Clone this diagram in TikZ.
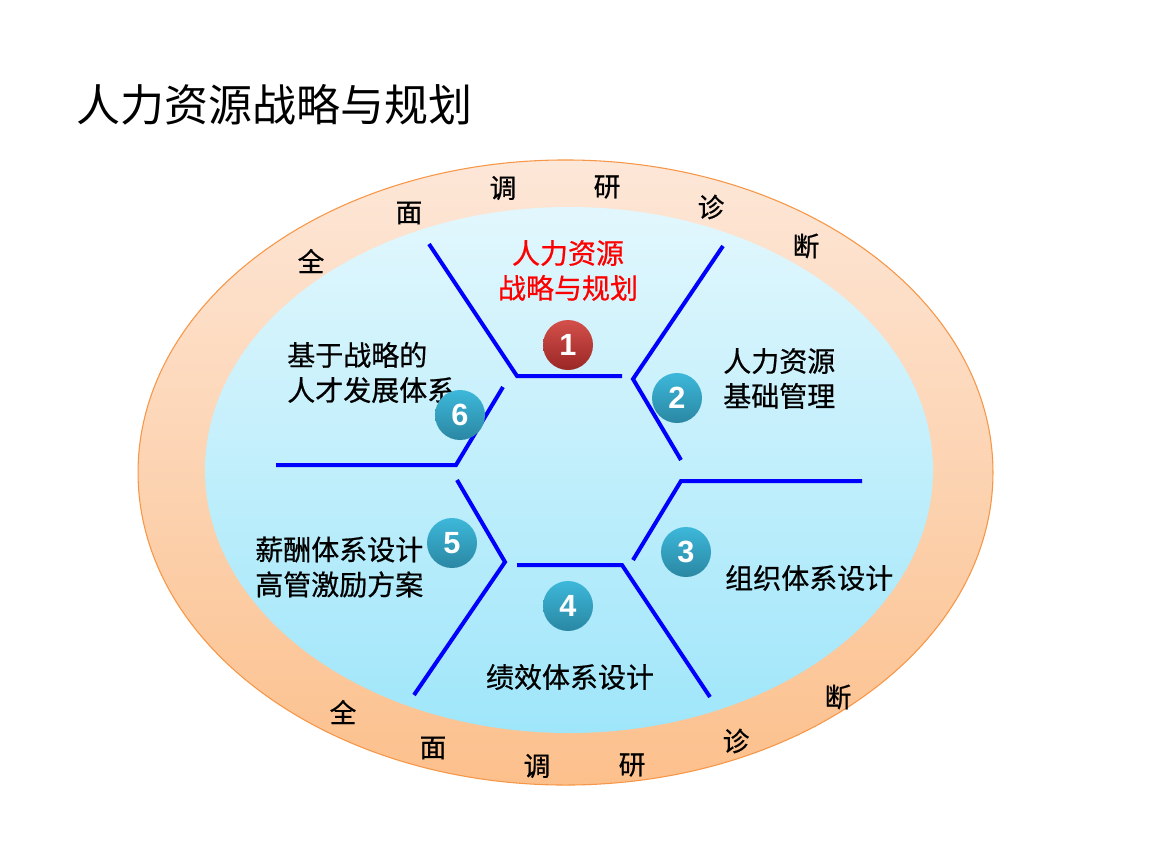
\documentclass[tikz,border=0pt]{standalone}
\usepackage{fontspec}
\setmainfont{Liberation Sans}
\newfontfamily\cjk{Noto Sans CJK SC}
\newfontfamily\cjkm{Noto Sans CJK SC}[FakeBold=0.6]
\definecolor{ringtop}{HTML}{FDE7D8}
\definecolor{ringbot}{HTML}{FCC08C}
\definecolor{ringedge}{HTML}{F79646}
\definecolor{coretop}{HTML}{E2F7FD}
\definecolor{corebot}{HTML}{9FE6FA}
\definecolor{balltop}{HTML}{3DB8DA}
\definecolor{ballbot}{HTML}{2A87A3}
\definecolor{redtop}{HTML}{D4504B}
\definecolor{redbot}{HTML}{9A2725}
\begin{document}
\begin{tikzpicture}[x=0.75pt,y=-0.75pt]
          \tikzstyle{ball}=[circle,inner sep=0pt,minimum size=37.5pt,top color=balltop,bottom color=ballbot,text=white,font=\fontsize{23}{23}\selectfont\bfseries];
          \tikzstyle{redball}=[ball,top color=redtop,bottom color=redbot];
          \tikzstyle{ring}=[inner sep=0pt,font=\cjkm\fontsize{20}{20}\selectfont];
          \tikzstyle{item}=[inner sep=0pt,font=\cjkm\fontsize{21}{26.25}\selectfont];
          \tikzstyle{hex}=[draw=blue,line width=3pt];
          \useasboundingbox (0,0) rectangle (1152,864);
          %title
          \node[anchor=west,inner sep=0pt,font=\cjk\fontsize{33}{33}\selectfont] (title) at (76,105) {人力资源战略与规划};
          %ellipses
          \path[top color=ringtop,bottom color=ringbot,draw=ringedge,line width=0.8pt] (565.5,472.5) ellipse [x radius=320.6pt,y radius=234.4pt];
          \path[top color=coretop,bottom color=corebot] (569,470) ellipse [x radius=273pt,y radius=197.25pt];
          %ring text
          \node[ring] (t1) at (311,261) {全};
          \node[ring] (t2) at (409,213) {面};
          \node[ring] (t3) at (503,188) {调};
          \node[ring] (t4) at (607,187) {研};
          \node[ring] (t5) at (711,207) {诊};
          \node[ring] (t6) at (806,246) {断};
          \node[ring] (b1) at (343,712) {全};
          \node[ring] (b2) at (433,748) {面};
          \node[ring] (b3) at (537,766) {调};
          \node[ring] (b4) at (632,765) {研};
          \node[ring] (b5) at (736,741) {诊};
          \node[ring] (b6) at (838,697) {断};
          %blue lines
          \draw[hex] (429,244)--(517,376)--(622,376);
          \draw[hex] (723,246)--(633,379)--(681,460);
          \draw[hex] (862,481)--(681,481)--(633,560);
          \draw[hex] (517,565)--(622,565)--(710,697);
          \draw[hex] (457,480)--(505,562)--(414,695);
          \draw[hex] (276,465)--(456,465)--(503,387);
          %labels
          \node[item,text=red,align=center] (l1) at (568,270.5) {人力资源\\战略与规划};
          \node[item,anchor=west,align=left] (l2) at (723,378.5) {人力资源\\基础管理};
          \node[item,anchor=west] (l3) at (725,578) {组织体系设计};
          \node[item] (l4) at (570,677) {绩效体系设计};
          \node[item,anchor=west,align=left] (l5) at (255,567) {薪酬体系设计\\高管激励方案};
          \node[item,anchor=west,align=left] (l6) at (287,372.5) {基于战略的\\人才发展体系};
          %balls
          \node[redball] (1) at (568,345) {1};
          \node[ball] (2) at (677,398) {2};
          \node[ball] (3) at (686,552) {3};
          \node[ball] (4) at (568,606) {4};
          \node[ball] (5) at (452,543) {5};
          \node[ball] (6) at (460,415) {6};
      \end{tikzpicture}
\end{document}
